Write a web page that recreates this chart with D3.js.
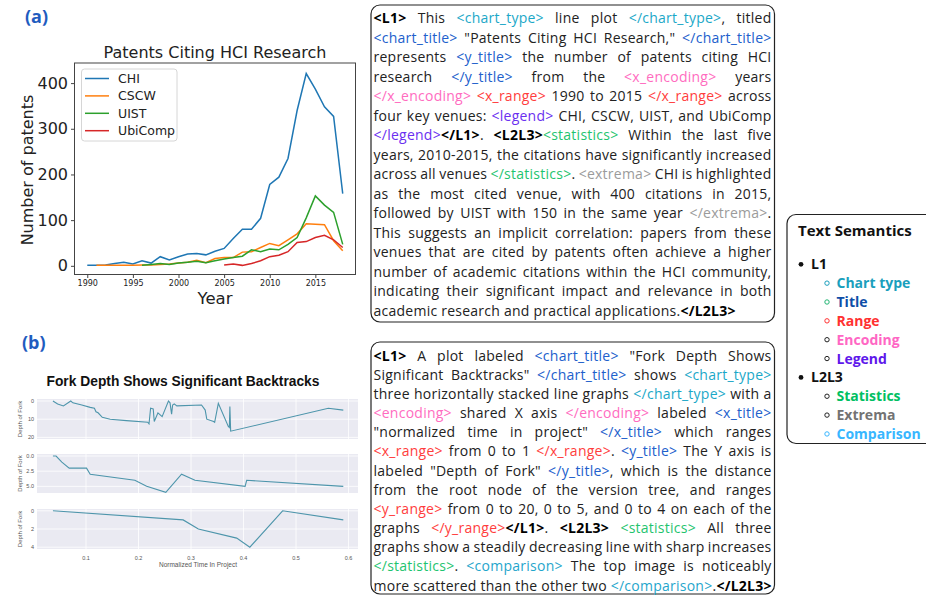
<!DOCTYPE html>
<html lang="en">
<head>
<meta charset="UTF-8" />
<title>Text semantics figure</title>
<script src="https://cdn.jsdelivr.net/npm/d3@7"></script>
<style>
  body { margin: 0; background: #fff; }
</style>
</head>
<body>
<script>
// ---- (a) patents citing HCI research ----
var years = [1990, 1991, 1992, 1993, 1994, 1995, 1996, 1997, 1998, 1999,
  2000, 2001, 2002, 2003, 2004, 2005, 2006, 2007, 2008, 2009,
  2010, 2011, 2012, 2013, 2014, 2015, 2016, 2017, 2018];
var chi = [1, 1, 2, 5, 8, 4, 11, 6, 20, 13, 20, 26, 27, 24, 32, 38, 60, 80, 80, 104,
  178, 194, 235, 340, 421, 387, 348, 327, 158];
var cscw = [null, 1, 1, 1, 1, 1, 2, 2, 3, 4, 6, 8, 12, 7, 16, 18, 18, 30, 31, 40,
  49, 44, 57, 70, 92, 91, 90, 55, 33];
var uist = [null, null, null, null, null, null, 1, 3, 5, 3, 6, 8, 10, 7, 11, 15, 18, 21, 35, 31,
  37, 35, 47, 62, 105, 153, 133, 117, 47];
var ubicomp = [null, null, null, null, null, null, null, null, null, null,
  null, null, null, null, null, 2, 4, 1, 5, 11, 20, 23, 31, 51, 53, 62, 67, 57, 40];
var venues = ["CHI", "CSCW", "UIST", "UbiComp"];
var venueColors = ["#1f77b4", "#ff7f0e", "#2ca02c", "#d62728"];
var yearTicks = [1990, 1995, 2000, 2005, 2010, 2015];
var patentTicks = [0, 100, 200, 300, 400];

// ---- (b) fork depth, three stacked panels: [normalized time, depth] ----
var forkTop = [[0.037, 0], [0.046, 1.6], [0.057, 2.7], [0.071, 0], [0.075, 1], [0.092, 2.2],
  [0.108, 3.5], [0.116, 4], [0.119, 5.9], [0.123, 6.5], [0.131, 9], [0.146, 10], [0.177, 10.8],
  [0.2175, 11.7], [0.22, 12.6], [0.223, 4], [0.228, 4.4], [0.23, 11.3], [0.237, 6.5],
  [0.245, 8.6], [0.257, 0], [0.26, 1], [0.263, 7.2], [0.265, 2.2], [0.268, 1.6], [0.273, 2.7],
  [0.32, 2.2], [0.327, 5], [0.33, 10], [0.343, 11.3], [0.345, 11.7], [0.352, 1.3],
  [0.371, 14], [0.373, 14.6], [0.374, 3], [0.3755, 16.6], [0.5615, 4], [0.59, 5]];
var forkMid = [[0.037, 0], [0.043, 0], [0.054, 1], [0.068, 2], [0.101, 2], [0.108, 3],
  [0.193, 4], [0.2155, 5], [0.252, 6], [0.282, 3], [0.3075, 4], [0.403, 5], [0.406, 4], [0.59, 5]];
var forkLow = [[0.037, 0], [0.285, 1], [0.314, 2], [0.387, 3], [0.412, 4], [0.4745, 0], [0.59, 1]];
var forkTimeTicks = [0.1, 0.2, 0.3, 0.4, 0.5, 0.6];
var forkDepthTicks = [[0, 10, 20], [0, 2.5, 5], [0, 2, 4]];
var forkDepthFormat = ["d", ".1f", "d"];

// ---- text panels ----
var tagColor = {
  tx: "#222", b: "#000", ct: "#1ba8c8", ti: "#2160cc", ra: "#ff3d3d", en: "#ff6cbf",
  lg: "#6a2ff0", st: "#1fc46f", ex: "#9b9b9b", cm: "#1fa6cc"
};
var textA = [
  "{b|<L1>} This {ct|<chart_type>} line plot {ct|</chart_type>}, titled",
  "{ti|<chart_title>} \"Patents Citing HCI Research,\" {ti|</chart_title>}",
  "represents {ti|<y_title>} the number of patents citing HCI",
  "research {ti|</y_title>} from the {en|<x_encoding>} years",
  "{en|</x_encoding>} {ra|<x_range>} 1990 to 2015 {ra|</x_range>} across",
  "four key venues: {lg|<legend>} CHI, CSCW, UIST, and UbiComp",
  "{lg|</legend>}{b|</L1>}. {b|<L2L3>}{st|<statistics>} Within the last five",
  "years, 2010-2015, the citations have significantly increased",
  "across all venues {st|</statistics>}. {ex|<extrema>} CHI is highlighted",
  "as the most cited venue, with 400 citations in 2015,",
  "followed by UIST with 150 in the same year {ex|</extrema>}.",
  "This suggests an implicit correlation: papers from these",
  "venues that are cited by patents often achieve a higher",
  "number of academic citations within the HCI community,",
  "indicating their significant impact and relevance in both",
  "academic research and practical applications.{b|</L2L3>}"
];
var textB = [
  "{b|<L1>} A plot labeled {ti|<chart_title>} \"Fork Depth Shows",
  "Significant Backtracks\" {ti|</chart_title>} shows {ct|<chart_type>}",
  "three horizontally stacked line graphs {ct|</chart_type>} with a",
  "{en|<encoding>} shared X axis {en|</encoding>} labeled {ti|<x_title>}",
  "\"normalized time in project\" {ti|</x_title>} which ranges",
  "{ra|<x_range>} from 0 to 1 {ra|</x_range>}. {ti|<y_title>} The Y axis is",
  "labeled \"Depth of Fork\" {ti|</y_title>}, which is the distance",
  "from the root node of the version tree, and ranges",
  "{ra|<y_range>} from 0 to 20, 0 to 5, and 0 to 4 on each of the",
  "graphs {ra|</y_range>}{b|</L1>}. {b|<L2L3>} {st|<statistics>} All three",
  "graphs show a steadily decreasing line with sharp increases",
  "{st|</statistics>}. {cm|<comparison>} The top image is noticeably",
  "more scattered than the other two {cm|</comparison>}.{b|</L2L3>}"
];
var semGroups = ["L1", "L2L3"];
var semItems = [
  ["Chart type", "#1a9fbd", "#1a9fbd", 0], ["Title", "#0f4ea8", "#22b573", 0],
  ["Range", "#ff3131", "#ff3131", 0], ["Encoding", "#ff66c4", "#222", 0],
  ["Legend", "#5e17eb", "#222", 0], ["Statistics", "#00bf63", "#222", 1],
  ["Extrema", "#737373", "#222", 1], ["Comparison", "#38b6ff", "#38b6ff", 1]
];

var svg = d3.select("body").append("svg").attr("width", 926).attr("height", 597);
svg.append("rect").attr("width", 926).attr("height", 597).attr("fill", "#fff");

// panel letters
svg.append("text").attr("x", 25).attr("y", 23).text("(a)")
  .attr("font-family", "Open Sans").attr("font-weight", 700).attr("font-size", 18).attr("fill", "#1f5cbf");
svg.append("text").attr("x", 22).attr("y", 349).text("(b)")
  .attr("font-family", "Open Sans").attr("font-weight", 700).attr("font-size", 18).attr("fill", "#1f5cbf");

// ================= chart (a) =================
var ga = svg.append("g").attr("font-family", "DejaVu Sans");
var x = d3.scaleLinear().domain([1988.6, 2019.4]).range([74.5, 355.5]);
var y = d3.scaleLinear().domain([-19, 444]).range([274.5, 63]);

[chi, cscw, uist, ubicomp].forEach(function (s, k) {
  var line = d3.line()
    .defined(function (d) { return d != null; })
    .x(function (d, i) { return x(years[i]); })
    .y(function (d) { return y(d); });
  ga.append("path").attr("d", line(s)).attr("fill", "none")
    .attr("stroke", venueColors[k]).attr("stroke-width", 1.5);
});

ga.append("rect").attr("x", 74.5).attr("y", 63).attr("width", 281).attr("height", 211.5)
  .attr("fill", "none").attr("stroke", "#444").attr("stroke-width", 1);

var xa = ga.append("g").attr("transform", "translate(0,274.5)")
  .call(d3.axisBottom(x).tickValues(yearTicks).tickFormat(d3.format("d")).tickSize(3.5).tickPadding(2));
xa.select(".domain").remove();
xa.selectAll("text").attr("font-size", 8).attr("font-family", "DejaVu Sans").attr("fill", "#222");
xa.selectAll("line").attr("stroke", "#444");

var ya = ga.append("g").attr("transform", "translate(74.5,0)")
  .call(d3.axisLeft(y).tickValues(patentTicks).tickSize(3.5).tickPadding(3));
ya.select(".domain").remove();
ya.selectAll("text").attr("font-size", 16).attr("font-family", "DejaVu Sans").attr("fill", "#222");
ya.selectAll("line").attr("stroke", "#444");

ga.append("text").attr("x", 215).attr("y", 58).attr("text-anchor", "middle")
  .attr("font-size", 16).attr("fill", "#222").text("Patents Citing HCI Research");
ga.append("text").attr("x", 215).attr("y", 304).attr("text-anchor", "middle")
  .attr("font-size", 16.5).attr("fill", "#222").text("Year");
ga.append("text").attr("transform", "translate(33,170) rotate(-90)").attr("text-anchor", "middle")
  .attr("font-size", 16).attr("fill", "#222").text("Number of patents");

var lg = ga.append("g");
lg.append("rect").attr("x", 81.5).attr("y", 69).attr("width", 95.5).attr("height", 72).attr("rx", 3)
  .attr("fill", "#fff").attr("fill-opacity", 0.85).attr("stroke", "#d6d6d6");
venues.forEach(function (v, i) {
  var yy = 78.5 + i * 17.4;
  lg.append("line").attr("x1", 85).attr("x2", 109).attr("y1", yy).attr("y2", yy)
    .attr("stroke", venueColors[i]).attr("stroke-width", 1.5);
  lg.append("text").attr("x", 118).attr("y", yy + 4.5).attr("font-size", 12.5).attr("fill", "#222").text(v);
});

// ================= chart (b) =================
var gb = svg.append("g").attr("font-family", "Liberation Sans");
gb.append("text").attr("x", 183).attr("y", 385.5).attr("text-anchor", "middle")
  .attr("font-weight", 700).attr("font-size", 13.8).attr("fill", "#111")
  .text("Fork Depth Shows Significant Backtracks");

var fx = d3.scaleLinear().domain([0.00667, 0.618]).range([37, 358]);
var panels = [
  { data: forkTop, dom: [-1.1, 20.9], top: 399, bot: 439 },
  { data: forkMid, dom: [-0.33, 6.1], top: 454, bot: 493 },
  { data: forkLow, dom: [-0.2, 4.2], top: 509, bot: 549 }
];
panels.forEach(function (p, k) {
  var fy = d3.scaleLinear().domain(p.dom).range([p.top, p.bot]);
  var g = gb.append("g");
  g.append("rect").attr("x", 37).attr("y", p.top).attr("width", 321).attr("height", p.bot - p.top)
    .attr("fill", "#eaeaf2");
  g.selectAll(".vg").data(forkTimeTicks).enter().append("line")
    .attr("x1", function (d) { return fx(d); }).attr("x2", function (d) { return fx(d); })
    .attr("y1", p.top).attr("y2", p.bot).attr("stroke", "#fff").attr("stroke-width", 0.8);
  g.selectAll(".hg").data(forkDepthTicks[k]).enter().append("line")
    .attr("x1", 37).attr("x2", 358)
    .attr("y1", function (d) { return fy(d); }).attr("y2", function (d) { return fy(d); })
    .attr("stroke", "#fff").attr("stroke-width", 0.8);
  g.append("path").attr("d", d3.line().x(function (d) { return fx(d[0]); }).y(function (d) { return fy(d[1]); })(p.data))
    .attr("fill", "none").attr("stroke", "#4d95ab").attr("stroke-width", 1.1);
  g.selectAll(".yt").data(forkDepthTicks[k]).enter().append("text")
    .attr("x", 34).attr("y", function (d) { return fy(d) + 2; }).attr("text-anchor", "end")
    .attr("font-size", 5.5).attr("fill", "#555").text(d3.format(forkDepthFormat[k]));
  g.append("text").attr("transform", "translate(22," + ((p.top + p.bot) / 2) + ") rotate(-90)")
    .attr("text-anchor", "middle").attr("font-size", 6).attr("fill", "#555").text("Depth of Fork");
});
gb.selectAll(".xt").data(forkTimeTicks).enter().append("text")
  .attr("x", function (d) { return fx(d); }).attr("y", 559.5).attr("text-anchor", "middle")
  .attr("font-size", 5.5).attr("fill", "#555").text(d3.format(".1f"));
gb.append("text").attr("x", 198).attr("y", 567).attr("text-anchor", "middle")
  .attr("font-size", 6.5).attr("fill", "#555").text("Normalized Time In Project");

// ================= text boxes =================
function box(x0, y0, w, h) {
  svg.append("rect").attr("x", x0).attr("y", y0).attr("width", w).attr("height", h).attr("rx", 9)
    .attr("fill", "none").attr("stroke", "#222").attr("stroke-width", 1.2);
}
function paragraph(lines, x0, w, y0, lh) {
  var g = svg.append("g").attr("font-family", "Open Sans").attr("font-size", 14)
    .attr("letter-spacing", 0.25);
  lines.forEach(function (ln, i) {
    var yy = y0 + i * lh + 4.9;
    var words = ln.split(" ").filter(function (s) { return s.length; });
    var nodes = words.map(function (wd) {
      var t = g.append("text").attr("y", yy);
      var re = /\{(\w+)\|([^}]*)\}|[^{]+/g, m;
      while ((m = re.exec(wd))) {
        var key = m[1] || "tx";
        t.append("tspan").text(m[1] ? m[2] : m[0]).attr("fill", tagColor[key])
          .attr("font-weight", key === "b" ? 700 : 400);
      }
      return t;
    });
    var widths = nodes.map(function (t) { return t.node().getComputedTextLength(); });
    var total = d3.sum(widths);
    var last = i === lines.length - 1;
    var gap = last || nodes.length < 2 ? 3.8 : (w - total) / (nodes.length - 1);
    var xx = x0;
    nodes.forEach(function (t, j) { t.attr("x", xx); xx += widths[j] + gap; });
  });
}
box(371, 5, 403.5, 317);
paragraph(textA, 373.5, 398, 18.3, 19.49);
box(371, 342, 403.5, 252);
paragraph(textB, 373.5, 398, 355.7, 19.17);

// ================= legend of text semantics =================
box(787, 214.5, 160, 229);
var gs = svg.append("g").attr("font-family", "Open Sans").attr("font-weight", 700);
gs.append("text").attr("x", 798).attr("y", 235.5).attr("font-size", 15).attr("fill", "#111").text("Text Semantics");
var rowY = 264.3, step = 18.85;
semGroups.forEach(function (grp, gi) {
  var yy = gi === 0 ? rowY : rowY + 6 * step;
  gs.append("circle").attr("cx", 801).attr("cy", yy).attr("r", 2.4).attr("fill", "#111");
  gs.append("text").attr("x", 811).attr("y", yy + 5).attr("font-size", 14).attr("fill", "#111").text(grp);
});
semItems.forEach(function (it, i) {
  var yy = rowY + (i + 1 + it[3]) * step;
  gs.append("circle").attr("cx", 827).attr("cy", yy).attr("r", 2.2).attr("fill", "none")
    .attr("stroke", it[2]).attr("stroke-width", 1);
  gs.append("text").attr("x", 836.5).attr("y", yy + 5).attr("font-size", 14).attr("fill", it[1]).text(it[0]);
});
</script>
</body>
</html>
